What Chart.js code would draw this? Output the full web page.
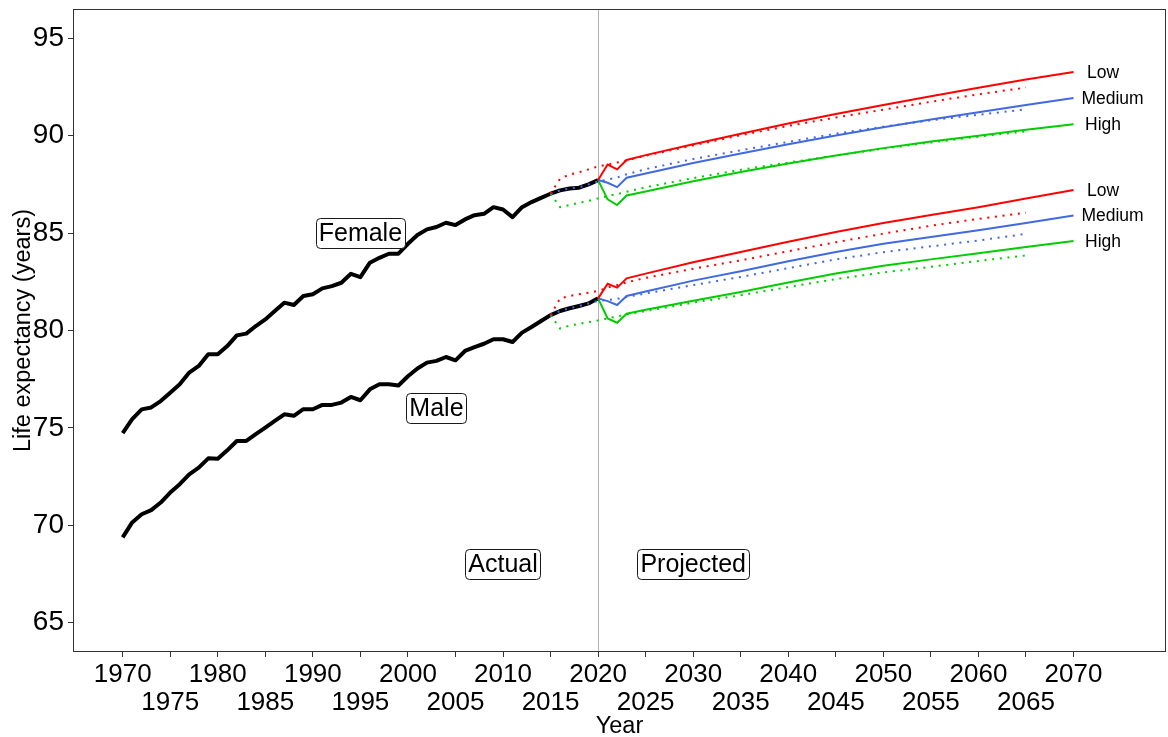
<!DOCTYPE html>
<html>
<head>
<meta charset="utf-8">
<title>Life expectancy projections</title>
<script src="https://cdn.jsdelivr.net/npm/chart.js@4.4.1/dist/chart.umd.min.js"></script>
<style>
  html, body { margin: 0; padding: 0; background: #fff; }
  #chart { display: block; }
</style>
</head>
<body>
<canvas id="chart" width="1168" height="737"></canvas>
<script>
// --- Data ---
const actualYears = [1970, 1971, 1972, 1973, 1974, 1975, 1976, 1977, 1978, 1979,
  1980, 1981, 1982, 1983, 1984, 1985, 1986, 1987, 1988, 1989,
  1990, 1991, 1992, 1993, 1994, 1995, 1996, 1997, 1998, 1999,
  2000, 2001, 2002, 2003, 2004, 2005, 2006, 2007, 2008, 2009,
  2010, 2011, 2012, 2013, 2014, 2015, 2016, 2017, 2018, 2019, 2020];
const femaleActual = [74.73, 75.45, 75.95, 76.05, 76.38, 76.81, 77.24, 77.84, 78.18, 78.78,
  78.78, 79.2, 79.75, 79.84, 80.23, 80.57, 81.0, 81.43, 81.31, 81.77,
  81.86, 82.16, 82.28, 82.45, 82.91, 82.74, 83.48, 83.73, 83.94, 83.94,
  84.45, 84.9, 85.19, 85.31, 85.53, 85.41, 85.7, 85.92, 85.99, 86.33,
  86.21, 85.82, 86.33, 86.59, 86.81, 87.02, 87.19, 87.29, 87.33, 87.5, 87.72];
const maleActual = [69.38, 70.15, 70.57, 70.78, 71.17, 71.68, 72.11, 72.62, 72.96, 73.44,
  73.42, 73.85, 74.33, 74.33, 74.68, 75.02, 75.36, 75.7, 75.62, 75.96,
  75.96, 76.18, 76.18, 76.3, 76.59, 76.42, 76.98, 77.24, 77.24, 77.18,
  77.65, 78.05, 78.35, 78.44, 78.64, 78.47, 78.95, 79.15, 79.32, 79.55,
  79.55, 79.41, 79.89, 80.18, 80.49, 80.79, 81.0, 81.14, 81.26, 81.39, 81.65];

// current projections (solid)
const projYears = [2020, 2021, 2022, 2023, 2025, 2030, 2035, 2040, 2045, 2050, 2055, 2060, 2065, 2070];
const femaleLow = [87.72, 88.52, 88.27, 88.75, 89.0, 89.56, 90.1, 90.62, 91.11, 91.57, 92.02, 92.46, 92.88, 93.27];
const femaleMedium = [87.72, 87.58, 87.36, 87.84, 88.06, 88.6, 89.08, 89.56, 90.01, 90.43, 90.83, 91.2, 91.57, 91.93];
const femaleHigh = [87.72, 86.73, 86.44, 86.93, 87.13, 87.66, 88.13, 88.57, 88.98, 89.36, 89.7, 90.0, 90.3, 90.58];
const maleLow = [81.65, 82.4, 82.2, 82.68, 82.92, 83.5, 84.03, 84.56, 85.06, 85.52, 85.93, 86.33, 86.77, 87.21];
const maleMedium = [81.65, 81.51, 81.31, 81.77, 82.0, 82.56, 83.04, 83.55, 84.03, 84.45, 84.8, 85.14, 85.52, 85.9];
const maleHigh = [81.65, 80.62, 80.4, 80.86, 81.06, 81.53, 81.98, 82.46, 82.92, 83.32, 83.65, 83.97, 84.28, 84.59];

// earlier projections (dotted)
const oldProjYears = [2015, 2016, 2017, 2018, 2019, 2020, 2021, 2022, 2023, 2025, 2030, 2035, 2040, 2045, 2050, 2055, 2060, 2065];
const femaleLowOld = [87.02, 87.8, 88.0, 88.12, 88.27, 88.42, 88.52, 88.62, 88.73, 88.97, 89.5, 90.02, 90.5, 90.93, 91.33, 91.74, 92.12, 92.47];
const femaleMediumOld = [87.02, 87.19, 87.29, 87.35, 87.5, 87.65, 87.75, 87.85, 88.02, 88.28, 88.8, 89.25, 89.68, 90.1, 90.46, 90.79, 91.07, 91.35];
const femaleHighOld = [87.02, 86.33, 86.44, 86.56, 86.65, 86.78, 86.9, 87.0, 87.12, 87.35, 87.82, 88.25, 88.62, 88.98, 89.33, 89.65, 89.95, 90.22];
const maleLowOld = [80.79, 81.65, 81.77, 81.86, 81.94, 82.03, 82.2, 82.33, 82.47, 82.7, 83.17, 83.6, 84.07, 84.53, 84.97, 85.38, 85.73, 86.04];
const maleMediumOld = [80.79, 81.0, 81.14, 81.26, 81.39, 81.52, 81.56, 81.62, 81.72, 81.9, 82.33, 82.75, 83.2, 83.65, 84.02, 84.32, 84.62, 84.96];
const maleHighOld = [80.79, 80.1, 80.25, 80.34, 80.43, 80.52, 80.62, 80.72, 80.82, 81.0, 81.43, 81.81, 82.23, 82.64, 82.98, 83.27, 83.57, 83.85];

// axis ticks
const xTicks = [1970, 1975, 1980, 1985, 1990, 1995, 2000, 2005, 2010, 2015, 2020,
  2025, 2030, 2035, 2040, 2045, 2050, 2055, 2060, 2065, 2070];
const yTicks = [65, 70, 75, 80, 85, 90, 95];

// --- Annotation text ---
const boxLabels = [
  { text: 'Female', x: 1995, y: 85 },
  { text: 'Male', x: 2003, y: 76 },
  { text: 'Actual', x: 2010, y: 68 },
  { text: 'Projected', x: 2030, y: 68 }
];
const variantLabelX = { Low: 2073.1, Medium: 2074.1, High: 2073.1 };

const FONT = "'Liberation Sans', Arial, sans-serif";
const RED = '#ff0000';
const BLUE = '#4169e1';
const GREEN = '#00cd00';

const toPoints = (xs, ys) => xs.map((x, i) => ({ x, y: ys[i] }));

const solid = (name, variant, ys, color) => ({
  label: name, variant, data: toPoints(projYears, ys),
  borderColor: color, borderWidth: 2, pointRadius: 0, tension: 0
});
const dotted = (name, ys, color) => ({
  label: name, data: toPoints(oldProjYears, ys),
  borderColor: color, borderWidth: 2, borderDash: [2, 5.7], pointRadius: 0, tension: 0
});
const actual = (name, ys) => ({
  label: name, data: toPoints(actualYears, ys),
  borderColor: '#000', borderWidth: 4, borderJoinStyle: 'round', pointRadius: 0, tension: 0
});

// first dataset is painted last, so dotted lines sit on top
const datasets = [
  dotted('Female low (earlier)', femaleLowOld, RED),
  dotted('Female medium (earlier)', femaleMediumOld, BLUE),
  dotted('Female high (earlier)', femaleHighOld, GREEN),
  dotted('Male low (earlier)', maleLowOld, RED),
  dotted('Male medium (earlier)', maleMediumOld, BLUE),
  dotted('Male high (earlier)', maleHighOld, GREEN),
  solid('Female low', 'Low', femaleLow, RED),
  solid('Female medium', 'Medium', femaleMedium, BLUE),
  solid('Female high', 'High', femaleHigh, GREEN),
  solid('Male low', 'Low', maleLow, RED),
  solid('Male medium', 'Medium', maleMedium, BLUE),
  solid('Male high', 'High', maleHigh, GREEN),
  actual('Female', femaleActual),
  actual('Male', maleActual)
];

// --- Extra drawing: 2020 divider, panel border, labels ---
const annotate = {
  id: 'annotate',
  beforeDatasetsDraw(chart) {
    const { ctx, chartArea, scales: { x } } = chart;
    const px = Math.round(x.getPixelForValue(2020)) + 0.5;
    ctx.save();
    ctx.strokeStyle = '#b3b3b3';
    ctx.lineWidth = 1;
    ctx.beginPath();
    ctx.moveTo(px, chartArea.top);
    ctx.lineTo(px, chartArea.bottom);
    ctx.stroke();
    ctx.restore();
  },
  afterDatasetsDraw(chart) {
    const { ctx, chartArea, scales: { x, y } } = chart;
    ctx.save();

    // panel border
    ctx.strokeStyle = '#333';
    ctx.lineWidth = 1;
    ctx.strokeRect(Math.round(chartArea.left) + 0.5, Math.round(chartArea.top) + 0.5,
      Math.round(chartArea.width) - 1, Math.round(chartArea.height) - 1);

    // boxed labels
    ctx.font = `25px ${FONT}`;
    ctx.textAlign = 'center';
    ctx.textBaseline = 'middle';
    boxLabels.forEach(lab => {
      const cx = x.getPixelForValue(lab.x);
      const cy = y.getPixelForValue(lab.y);
      const w = ctx.measureText(lab.text).width + 6;
      const h = 30;
      ctx.beginPath();
      ctx.roundRect(Math.round(cx - w / 2) + 0.5, Math.round(cy - h / 2) + 0.5, Math.round(w), h, 4);
      ctx.fillStyle = '#fff';
      ctx.fill();
      ctx.strokeStyle = '#000';
      ctx.lineWidth = 0.9;
      ctx.stroke();
      ctx.fillStyle = '#000';
      ctx.fillText(lab.text, cx, cy + 1);
    });

    // variant names at the end of each current projection
    ctx.font = `17.5px ${FONT}`;
    chart.data.datasets.forEach(ds => {
      if (!ds.variant) return;
      const last = ds.data[ds.data.length - 1];
      ctx.fillText(ds.variant, x.getPixelForValue(variantLabelX[ds.variant]), y.getPixelForValue(last.y) + 1);
    });
    ctx.restore();
  }
};

// keep the plot panel at fixed pixel edges
const fixBox = size => scale => {
  if (scale.isHorizontal()) scale.height = size; else scale.width = size;
  scale.paddingTop = 0;
  scale.paddingBottom = 0;
  scale.paddingLeft = 0;
  scale.paddingRight = 0;
};

// --- Build chart ---
new Chart(document.getElementById('chart'), {
  type: 'line',
  data: { datasets },
  options: {
    responsive: false,
    animation: false,
    devicePixelRatio: 1,
    layout: { padding: { top: 9, right: 2, left: 0, bottom: 0 } },
    plugins: { legend: { display: false }, tooltip: { enabled: false } },
    scales: {
      x: {
        type: 'linear',
        min: 1964.775,
        max: 2079.725,
        afterBuildTicks: scale => { scale.ticks = xTicks.map(v => ({ value: v })); },
        afterFit: fixBox(85),
        grid: { drawOnChartArea: false, drawTicks: true, tickLength: 5, tickColor: '#333', tickWidth: 1 },
        border: { display: false },
        ticks: {
          autoSkip: false,
          maxRotation: 0,
          padding: 4,
          color: '#000',
          font: { family: FONT, size: 26, lineHeight: 1.065 },
          callback: (value, index) => index % 2 === 0 ? [String(value), ''] : ['', String(value)]
        },
        title: {
          display: true, text: 'Year', color: '#000',
          font: { family: FONT, size: 23.5, lineHeight: 0.85 },
          padding: { top: 0, bottom: 0 }
        }
      },
      y: {
        min: 63.5,
        max: 96.5,
        afterBuildTicks: scale => { scale.ticks = yTicks.map(v => ({ value: v })); },
        afterFit: fixBox(73),
        grid: { drawOnChartArea: false, drawTicks: true, tickLength: 5, tickColor: '#333', tickWidth: 1 },
        border: { display: false },
        ticks: {
          padding: 4,
          color: '#000',
          font: { family: FONT, size: 28 }
        },
        title: {
          display: true, text: 'Life expectancy (years)', color: '#000',
          font: { family: FONT, size: 23.5, lineHeight: 1.2 },
          padding: { top: 9, bottom: 0 }
        }
      }
    }
  },
  plugins: [annotate]
});
</script>
</body>
</html>
